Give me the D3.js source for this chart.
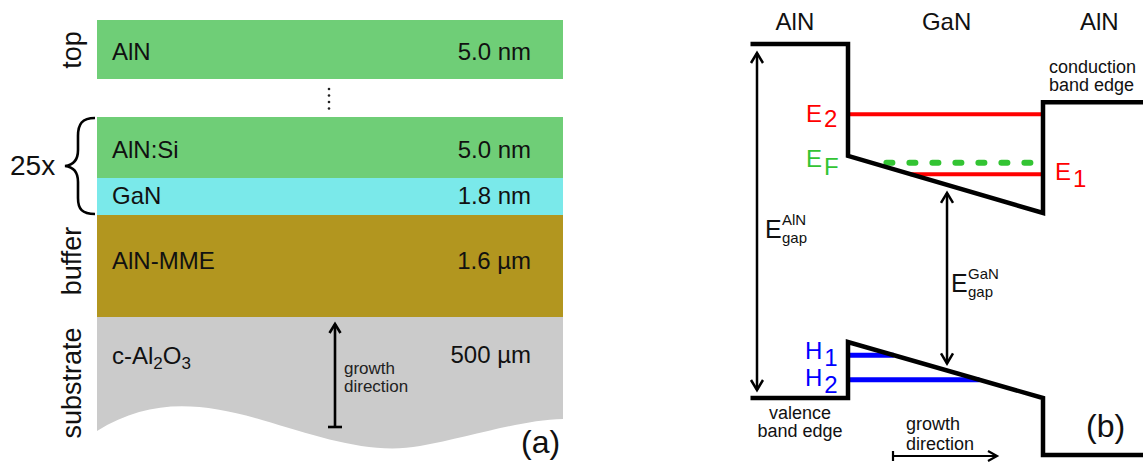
<!DOCTYPE html>
<html>
<head>
<meta charset="utf-8">
<script src="https://cdn.jsdelivr.net/npm/d3@7"></script>
<style>
  html, body { margin: 0; padding: 0; background: #fff; }
  svg { display: block; font-family: Arial, "Liberation Sans", sans-serif; }
</style>
</head>
<body>
<svg id="fig" width="1143" height="464"></svg>
<script>
// ---------- (a) layer stack ----------
const layerMaterials = ["AlN", "AlN:Si", "GaN", "AlN-MME", "c-Al2O3"];
const layerThickness = ["5.0 nm", "5.0 nm", "1.8 nm", "1.6 µm", "500 µm"];
const stackRegions = ["top", "buffer", "substrate"];
const repeatLabel = "25x";

// ---------- (b) band diagram (position in nm, energy in eV) ----------
const bandRegions = ["AlN", "GaN", "AlN"];
const conductionEdge = [[-0.9, 6.2], [0, 6.2], [0, 4.24], [1.8, 3.24], [1.8, 5.18], [2.8, 5.18]];
const valenceEdge = [[-0.9, 0], [0, 0], [0, 0.98], [1.8, 0], [1.8, -1.0], [2.8, -1.0]];
const levelSymbols = ["E", "E", "E", "H", "H"];
const levelSubscripts = ["2", "F", "1", "1", "2"];
const levelEnergies = [4.97, 4.12, 3.92, 0.75, 0.32];
const levelBands = ["c", "c", "c", "v", "v"];

// ---------- layout / style ----------
const svg = d3.select("#fig");
const ink = "#000";

// layer rows (pixel layout of the schematic stack)
const stackX = d3.scaleLinear().domain([0, 1]).range([97, 563]);
const rowTop = [20, 117, 178, 215, 317];
const rowBottom = [79, 178, 215, 317, 317];
const rowFill = ["#6fce77", "#6fce77", "#7ae9ea", "#b2961f", "#cbcbcb"];
const rowBaseline = [60, 158, 204, 269, 363];
const regionCenterY = [50, 261, 383];

const gA = svg.append("g");

// wavy bottom edge of the substrate
const subPath = d3.path();
subPath.moveTo(stackX(0), rowTop[4]);
subPath.lineTo(stackX(1), rowTop[4]);
subPath.lineTo(stackX(1), 419);
subPath.bezierCurveTo(520, 420, 470, 437, 420, 446);
subPath.bezierCurveTo(370, 455, 320, 437, 262, 420);
subPath.bezierCurveTo(200, 402, 150, 398, stackX(0), 431);
subPath.closePath();

gA.selectAll("rect.layer")
  .data(layerMaterials.slice(0, 4))
  .join("rect")
  .attr("class", "layer")
  .attr("x", stackX(0))
  .attr("width", stackX(1) - stackX(0))
  .attr("y", (d, i) => rowTop[i])
  .attr("height", (d, i) => rowBottom[i] - rowTop[i])
  .attr("fill", (d, i) => rowFill[i]);

gA.append("path").attr("d", subPath.toString()).attr("fill", rowFill[4]);

// material names, digits set as subscripts
gA.selectAll("text.mat")
  .data(layerMaterials)
  .join("text")
  .attr("class", "mat")
  .attr("x", 112)
  .attr("y", (d, i) => rowBaseline[i] + (i === 4 ? 1 : 0))
  .attr("font-size", 24)
  .attr("fill", "#111")
  .each(function (d) {
    const t = d3.select(this);
    const runs = d.match(/\d+|[^\d]+/g);
    let sub = false;
    runs.forEach(r => {
      const isDigit = /\d/.test(r);
      const ts = t.append("tspan").text(r);
      if (isDigit) { ts.attr("font-size", 17).attr("dy", sub ? 0 : 5); sub = true; }
      else if (sub) { ts.attr("dy", -5); sub = false; }
    });
  });

gA.selectAll("text.thk")
  .data(layerThickness)
  .join("text")
  .attr("class", "thk")
  .attr("x", 531)
  .attr("y", (d, i) => rowBaseline[i])
  .attr("text-anchor", "end")
  .attr("font-size", 24)
  .attr("fill", "#111")
  .text(d => d);

// region names along the left edge
gA.selectAll("text.region")
  .data(stackRegions)
  .join("text")
  .attr("class", "region")
  .attr("transform", (d, i) => `translate(81,${regionCenterY[i]}) rotate(-90)`)
  .attr("text-anchor", "middle")
  .attr("font-size", 27)
  .attr("fill", "#111")
  .text(d => d);

// vertical ellipsis between top layer and the repeated period
gA.selectAll("circle.dot")
  .data([0, 1, 2, 3])
  .join("circle")
  .attr("cx", 329)
  .attr("cy", d => 89 + d * 6.5)
  .attr("r", 1.3)
  .attr("fill", "#222");

// curly brace marking the repeated period
gA.append("path")
  .attr("d", "M95,118 C82,118 78,124 78,136 L78,150 C78,160 74,165 65,166 C74,167 78,172 78,182 L78,198 C78,209 82,214 95,214")
  .attr("fill", "none")
  .attr("stroke", ink)
  .attr("stroke-width", 2.6);

gA.append("text")
  .attr("x", 10).attr("y", 175)
  .attr("font-size", 28).attr("fill", "#111")
  .text(repeatLabel);

// arrow helpers
function chevron(g, x, y, dir, w, h, sw) {
  // dir: "up", "down", "right"
  let d;
  if (dir === "up") d = `M${x - w},${y + h} L${x},${y} L${x + w},${y + h}`;
  else if (dir === "down") d = `M${x - w},${y - h} L${x},${y} L${x + w},${y - h}`;
  else d = `M${x - h},${y - w} L${x},${y} L${x - h},${y + w}`;
  g.append("path").attr("d", d).attr("fill", "none")
    .attr("stroke", ink).attr("stroke-width", sw).attr("stroke-linejoin", "miter");
}

// growth direction (a)
gA.append("line").attr("x1", 335).attr("x2", 335).attr("y1", 324).attr("y2", 427)
  .attr("stroke", ink).attr("stroke-width", 2.6);
chevron(gA, 335, 324, "up", 5.5, 9, 2.6);
gA.append("line").attr("x1", 328).attr("x2", 342).attr("y1", 427).attr("y2", 427)
  .attr("stroke", ink).attr("stroke-width", 2.6);
gA.selectAll("text.growA")
  .data(["growth", "direction"])
  .join("text")
  .attr("class", "growA")
  .attr("x", 344)
  .attr("y", (d, i) => 374 + i * 18)
  .attr("font-size", 17)
  .attr("fill", "#222")
  .text(d => d);

gA.append("text").attr("x", 521).attr("y", 453)
  .attr("font-size", 32).attr("fill", "#111").text("(a)");

// ---------- (b) ----------
const gB = svg.append("g");
const x = d3.scaleLinear().domain([0, 1.8]).range([848, 1043]);
const y = d3.scaleLinear().domain([0, 6.2]).range([398, 44]);
const edgeLine = d3.line().x(d => x(d[0])).y(d => y(d[1]));

const regionLabelX = [-0.49, 0.91, 2.32];
gB.selectAll("text.breg")
  .data(bandRegions)
  .join("text")
  .attr("class", "breg")
  .attr("x", (d, i) => x(regionLabelX[i]))
  .attr("y", 30)
  .attr("text-anchor", "middle")
  .attr("font-size", 24)
  .attr("fill", "#111")
  .text(d => d);

// position where a confined level meets the sloped well edge
const cbA = conductionEdge[2], cbB = conductionEdge[3];
const vbA = valenceEdge[2], vbB = valenceEdge[3];
function crossing(p, q, e) {
  const t = (e - p[1]) / (q[1] - p[1]);
  return Math.max(0, Math.min(1, t)) * (q[0] - p[0]) + p[0];
}
const levels = levelEnergies.map((e, i) => {
  const band = levelBands[i];
  let x0, x1;
  if (band === "c") { x0 = crossing(cbA, cbB, e); x1 = 1.8; }
  else { x0 = 0; x1 = crossing(vbA, vbB, e); }
  return { e, band, sym: levelSymbols[i], sub: levelSubscripts[i], x0, x1 };
});
const levelColor = d => d.band === "v" ? "#0000ff" : (d.sub === "F" ? "#33c433" : "#ff0000");

// level lines
gB.selectAll("line.level")
  .data(levels)
  .join("line")
  .attr("class", "level")
  .attr("x1", d => x(d.x0) + (d.sub === "F" ? 15 : 0))
  .attr("x2", d => x(d.x1) - (d.sub === "F" ? 10 : 0))
  .attr("y1", d => y(d.e))
  .attr("y2", d => y(d.e))
  .attr("stroke", levelColor)
  .attr("stroke-width", d => d.sub === "F" ? 6 : (d.band === "v" ? 5 : 4))
  .attr("stroke-linecap", d => d.sub === "F" ? "round" : "butt")
  .attr("stroke-dasharray", d => d.sub === "F" ? "6 17" : null);

// band edges
[conductionEdge, valenceEdge].forEach(edge => {
  gB.append("path")
    .attr("d", edgeLine(edge))
    .attr("fill", "none")
    .attr("stroke", ink)
    .attr("stroke-width", 4.5)
    .attr("stroke-linejoin", "miter");
});

// level labels
const labelPos = [[806, 8], [806, 4], [1055, 6], [805, 4], [805, 6]];
const subShift = [5, 8, 7, 7, 7];
gB.selectAll("text.lvl")
  .data(levels)
  .join("text")
  .attr("class", "lvl")
  .attr("x", (d, i) => labelPos[i][0])
  .attr("y", (d, i) => y(d.e) + labelPos[i][1])
  .attr("font-size", 24)
  .attr("fill", levelColor)
  .each(function (d, i) {
    const t = d3.select(this);
    t.append("tspan").text(d.sym);
    t.append("tspan").attr("dx", 2).attr("dy", subShift[i]).text(d.sub);
  });

// band-gap arrows
function doubleArrow(g, px, yTop, yBot) {
  g.append("line").attr("x1", px).attr("x2", px).attr("y1", yTop).attr("y2", yBot)
    .attr("stroke", ink).attr("stroke-width", 2.5);
  chevron(g, px, yTop, "up", 6, 10, 2.5);
  chevron(g, px, yBot, "down", 6, 10, 2.5);
}
const gapAlNx = -0.84;
doubleArrow(gB, x(gapAlNx), y(6.2) + 9, y(0) - 8);
const gapGaNx = 0.914;
const cbAt = cbA[1] + (cbB[1] - cbA[1]) * (gapGaNx / 1.8);
const vbAt = vbA[1] + (vbB[1] - vbA[1]) * (gapGaNx / 1.8);
doubleArrow(gB, x(gapGaNx), y(cbAt) + 8, y(vbAt) - 7);

function gapLabel(g, ex, ey, mat) {
  g.append("text").attr("x", ex).attr("y", ey).attr("font-size", 25).attr("fill", "#111").text("E");
  g.append("text").attr("x", ex + 17).attr("y", ey - 13).attr("font-size", 15).attr("fill", "#111").text(mat);
  g.append("text").attr("x", ex + 17).attr("y", ey + 5).attr("font-size", 15).attr("fill", "#111").text("gap");
}
gapLabel(gB, 765, 238, bandRegions[0]);
gapLabel(gB, 951, 292, bandRegions[1]);

// band edge captions
gB.selectAll("text.cbl")
  .data(["conduction", "band edge"])
  .join("text")
  .attr("class", "cbl")
  .attr("x", 1049)
  .attr("y", (d, i) => 73 + i * 18)
  .attr("font-size", 18)
  .attr("fill", "#111")
  .text(d => d);

gB.selectAll("text.vbl")
  .data(["valence", "band edge"])
  .join("text")
  .attr("class", "vbl")
  .attr("x", 800)
  .attr("y", (d, i) => 419 + i * 18)
  .attr("text-anchor", "middle")
  .attr("font-size", 18)
  .attr("fill", "#111")
  .text(d => d);

// growth direction (b)
gB.selectAll("text.growB")
  .data(["growth", "direction"])
  .join("text")
  .attr("class", "growB")
  .attr("x", 906)
  .attr("y", (d, i) => 430 + i * 20)
  .attr("font-size", 18)
  .attr("fill", "#111")
  .text(d => d);
gB.append("line").attr("x1", 893).attr("x2", 997).attr("y1", 456).attr("y2", 456)
  .attr("stroke", ink).attr("stroke-width", 2.2);
gB.append("line").attr("x1", 893).attr("x2", 893).attr("y1", 451).attr("y2", 461)
  .attr("stroke", ink).attr("stroke-width", 2.2);
chevron(gB, 997, 456, "right", 5, 9, 2.2);

gB.append("text").attr("x", 1086).attr("y", 437)
  .attr("font-size", 32).attr("fill", "#111").text("(b)");
</script>
</body>
</html>
